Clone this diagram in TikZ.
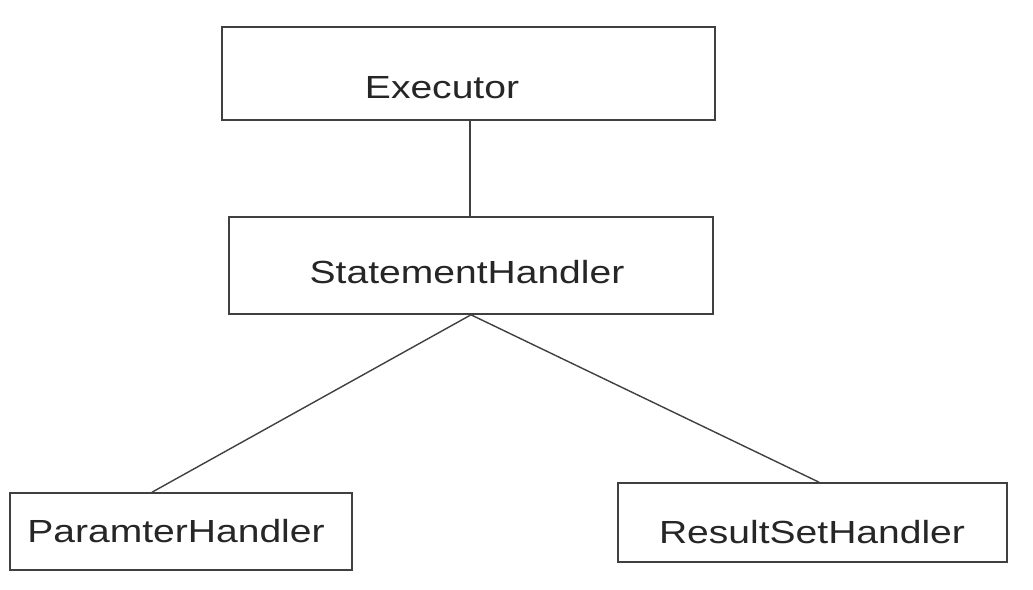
\documentclass[tikz,border=0pt]{standalone}
\usepackage{fontspec}
\setmainfont{Liberation Sans}[FakeStretch=1.22]
\begin{document}
\begin{tikzpicture}[x=1pt,y=-1pt,
  box/.style={draw=black!75, line width=1.6pt, rectangle, inner sep=0pt, fill=white},
  lbl/.style={text=black!85, font=\fontsize{32}{36}\selectfont, inner sep=0pt, anchor=base},
  link/.style={draw=black!75, line width=1.4pt}]
\useasboundingbox (0,0) rectangle (1033,589);
\fill[white] (0,0) rectangle (1033,589);
\node[box, minimum width=493pt, minimum height=93pt] (exec) at (468.5,73.5) {};
\node[box, minimum width=484pt, minimum height=97pt] (stmt) at (471,265.5) {};
\node[box, minimum width=342pt, minimum height=77pt] (param) at (181,531.5) {};
\node[box, minimum width=389pt, minimum height=79pt] (result) at (812.5,522.5) {};
\node[lbl] (exect) at (442,98) {Executor};
\node[lbl] (stmtt) at (467,283) {StatementHandler};
\node[lbl] (paramt) at (176,542) {ParamterHandler};
\node[lbl] (resultt) at (812,543) {ResultSetHandler};
\coordinate (ein) at (470,0);
\coordinate (pin) at (152,0);
\coordinate (rin) at (819,0);
\draw[link] (exec.south -| ein) -- (stmt.north -| ein);
\draw[link] (stmt.south) -- (param.north -| pin);
\draw[link] (stmt.south) -- (result.north -| rin);
\end{tikzpicture}
\end{document}
